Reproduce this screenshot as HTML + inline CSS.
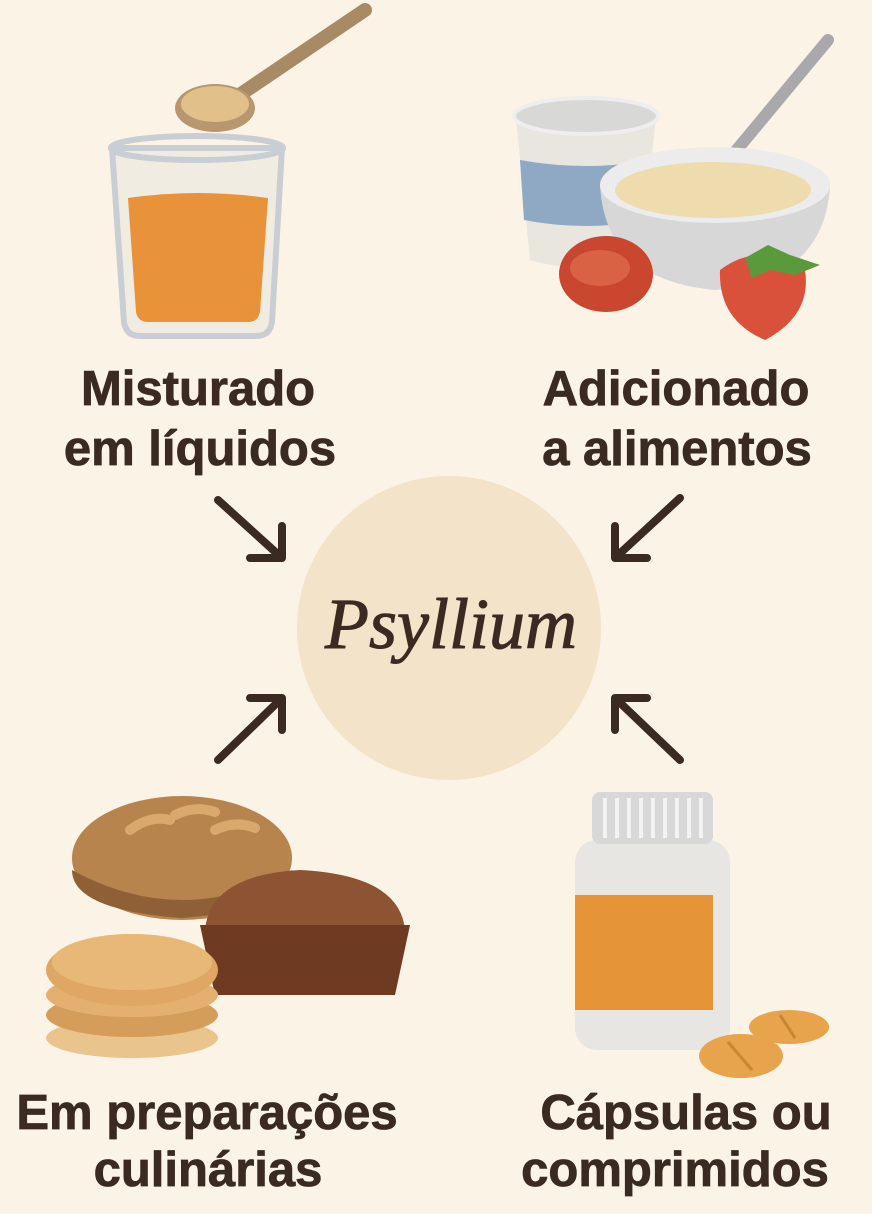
<!DOCTYPE html>
<html><head><meta charset="utf-8"><style>
html,body{margin:0;padding:0;background:#fbf3e6;}
svg{display:block}
</style></head><body>
<svg width="872" height="1214" viewBox="0 0 872 1214" xmlns="http://www.w3.org/2000/svg">
<rect width="872" height="1214" fill="#fbf3e6"/>
<circle cx="449" cy="628" r="152" fill="#f3e3c9"/>
<text x="451" y="648" text-anchor="middle" font-family="Liberation Serif, serif" font-style="italic" font-size="72" fill="#3a2a22" stroke="#3a2a22" stroke-width="1">Psyllium</text>

<g stroke="#3a2a22" stroke-width="8" fill="none" stroke-linecap="round" stroke-linejoin="round">
<path d="M218 500 L282 558 M250 558 L282 558 L282 526"/>
<path d="M680 498 L615 558 M647 558 L615 558 L615 526"/>
<path d="M218 760 L282 698 M250 698 L282 698 L282 730"/>
<path d="M680 760 L615 698 M647 698 L615 698 L615 730"/>
</g>

<path d="M365 10 L232 100" stroke="#a88a64" stroke-width="14" stroke-linecap="round"/>
<ellipse cx="215" cy="108" rx="40" ry="24" fill="#b89770"/>
<ellipse cx="215" cy="104" rx="34" ry="18" fill="#e2c08a"/>
<path d="M112 148 L124 322 Q126 336 140 336 L256 336 Q270 336 272 322 L282 148 Z" fill="#f1ece2" stroke="#c9ced4" stroke-width="6"/>
<path d="M128 198 L136 312 Q138 322 148 322 L248 322 Q258 322 260 312 L268 198 Q198 188 128 198 Z" fill="#e8923a"/>
<ellipse cx="197" cy="148" rx="86" ry="12" fill="none" stroke="#c9ced4" stroke-width="6"/>

<path d="M516 118 L530 260 Q580 275 640 260 L656 118 Z" fill="#e9e6e0"/>
<path d="M520 160 L524 220 Q585 232 652 220 L654 160 Q585 172 520 160 Z" fill="#8fa8c4"/>
<ellipse cx="586" cy="116" rx="72" ry="18" fill="#d8d8d6" stroke="#eee" stroke-width="4"/>
<path d="M828 40 L720 170" stroke="#a9a9ab" stroke-width="12" stroke-linecap="round"/>
<path d="M600 185 Q605 280 715 290 Q825 280 830 185 Z" fill="#d7d7d7"/>
<ellipse cx="715" cy="185" rx="115" ry="38" fill="#ececec"/>
<ellipse cx="713" cy="190" rx="98" ry="28" fill="#eedcae"/>
<ellipse cx="606" cy="274" rx="47" ry="38" fill="#c8472e"/>
<ellipse cx="600" cy="268" rx="30" ry="18" fill="#d96245"/>
<path d="M720 270 Q760 240 805 270 Q812 315 765 340 Q718 320 720 270 Z" fill="#d9513a"/>
<path d="M745 258 L768 245 L790 255 L820 265 L795 275 L770 270 L752 278 Z" fill="#5a9a3c"/>

<ellipse cx="182" cy="858" rx="110" ry="62" fill="#b8844e"/>
<path d="M72 870 Q182 930 292 870 Q292 910 182 918 Q72 910 72 870Z" fill="#8f5f36"/>
<path d="M130 830 Q150 815 170 820 M175 815 Q195 805 215 812 M215 830 Q235 820 255 828" stroke="#d8a86c" stroke-width="10" stroke-linecap="round" fill="none"/>
<path d="M205 930 Q210 875 300 870 Q400 875 405 930 Z" fill="#8c5432"/>
<path d="M200 925 L410 925 L395 995 L215 995 Z" fill="#6e3b22"/>
<ellipse cx="132" cy="1038" rx="86" ry="20" fill="#e9c48c"/>
<ellipse cx="132" cy="1015" rx="86" ry="22" fill="#d59d5a"/>
<ellipse cx="132" cy="995" rx="86" ry="22" fill="#e4b070"/>
<ellipse cx="132" cy="970" rx="86" ry="36" fill="#e0a764"/>
<ellipse cx="132" cy="962" rx="80" ry="28" fill="#e8b877"/>

<rect x="575" y="840" width="155" height="210" rx="22" fill="#e8e6e2"/>
<rect x="575" y="895" width="138" height="115" fill="#e59437"/>
<rect x="592" y="792" width="121" height="52" rx="8" fill="#d8d8d8"/>
<g stroke="#f3f3f3" stroke-width="4"><path d="M605 798V838M617 798V838M629 798V838M641 798V838M653 798V838M665 798V838M677 798V838M689 798V838M701 798V838"/></g>
<ellipse cx="789" cy="1027" rx="40" ry="17" fill="#e8a44c"/>
<ellipse cx="741" cy="1056" rx="42" ry="22" fill="#e8a44c"/>
<path d="M780 1015 L795 1038 M728 1042 L752 1070" stroke="#c88632" stroke-width="3"/>

<g font-family="Liberation Sans, sans-serif" font-weight="bold" font-size="49" fill="#3a2a22" text-anchor="middle" stroke="#3a2a22" stroke-width="0.8">
<text x="198" y="405">Misturado</text>
<text x="200" y="465">em líquidos</text>
<text x="676" y="405">Adicionado</text>
<text x="677" y="465">a alimentos</text>
<text x="207" y="1129">Em preparações</text>
<text x="208" y="1186">culinárias</text>
<text x="686" y="1129">Cápsulas ou</text>
<text x="675" y="1186">comprimidos</text>
</g>
</svg>
</body></html>
